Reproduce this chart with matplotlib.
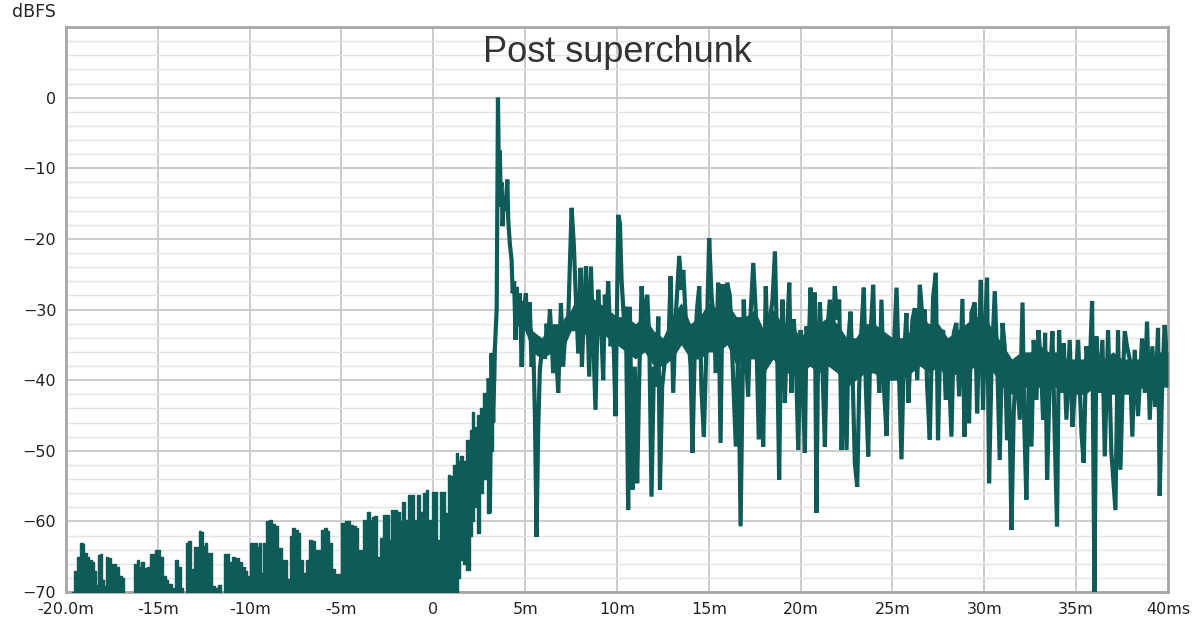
import numpy as np
import matplotlib
matplotlib.use("Agg")
import matplotlib.pyplot as plt
from matplotlib.ticker import MultipleLocator

# --- data (time in ms, level in dBFS) ---
# pre-arrival noise: upper edge of the dense noise floor
noise_t = [-20.0, -19.7, -19.64, -19.5, -19.35, -19.15, -19.05, -18.95, -18.8, -18.65,
           -18.5, -18.42, -18.33, -18.22, -18.1, -17.98, -17.88, -17.78, -17.65, -17.5,
           -17.35, -17.2, -17.0, -16.88, -16.75, -16.35, -16.2, -16.1, -15.97, -15.83,
           -15.7, -15.6, -15.53, -15.36, -15.25, -15.1, -14.95, -14.85, -14.62, -14.5,
           -14.35, -14.16, -13.97, -13.82, -13.7, -13.55, -13.4, -13.28, -13.1, -13.0,
           -12.87, -12.7, -12.6, -12.5, -12.37, -12.25, -12.1, -11.98, -11.8, -11.62,
           -11.45, -11.3, -11.17, -11.07, -10.9, -10.7, -10.5, -10.35, -10.2, -10.07,
           -9.9, -9.7, -9.55, -9.45, -9.35, -9.2, -9.05, -8.85, -8.7, -8.55,
           -8.35, -8.15, -8.0, -7.9, -7.75, -7.6, -7.45, -7.3, -7.17, -7.0,
           -6.82, -6.68, -6.55, -6.35, -6.2, -6.0, -5.86, -5.72, -5.6, -5.45,
           -5.25, -5.1, -4.9, -4.75, -4.6, -4.45, -4.3, -4.15, -4.0, -3.9,
           -3.8, -3.65, -3.54, -3.4, -3.3, -3.15, -3.0, -2.8, -2.65, -2.5,
           -2.36, -2.2, -2.05, -1.9, -1.75, -1.64, -1.45, -1.3, -1.1, -0.97,
           -0.82, -0.65, -0.47, -0.36, -0.18, 0.09, 0.27, 0.51, 0.72, 0.87,
           1.0, 1.15, 1.27, 1.4, 1.54, 1.7, 1.9, 2.05, 2.17, 2.3,
           2.45, 2.63, 2.81, 3.0, 3.17, 3.35]
noise_hi = [-72, -72, -70, -67, -65, -63.0, -63.2, -64.5, -65, -65.5,
            -65.8, -67, -69, -64.7, -64.6, -68.3, -69.2, -65, -65.2, -66,
            -66, -66.4, -67.8, -68, -72, -72, -66, -65.4, -66.4, -65.8,
            -66.6, -69.2, -66.4, -64.6, -64.6, -64, -64, -65, -67.8, -68.3,
            -68.8, -69.5, -65.4, -66.4, -69.5, -72, -63, -62.8, -66.8, -63.6,
            -63.6, -61.4, -61.5, -63.5, -63, -64.5, -64.5, -69.2, -69.5, -69,
            -72, -64.6, -64.6, -65.8, -65, -65.2, -65.8, -66.5, -67, -67.8,
            -63, -63, -63.6, -63, -67.3, -63, -60, -59.8, -60.3, -60.7,
            -63.8, -65.4, -65.5, -68.2, -62, -60.9, -61.2, -61.7, -65.4, -67.3,
            -65.4, -62.6, -62.8, -64, -64, -61.2, -60.9, -61.4, -63, -66.8,
            -67.5, -67.5, -60.2, -60, -60, -60.5, -60.7, -60.9, -64, -64,
            -59.8, -59.8, -58.6, -59.8, -59.4, -59.3, -65, -62.3, -59.1, -59.1,
            -62.6, -58.4, -58.4, -58.6, -60, -57.2, -59.8, -56.2, -56.2, -59.8,
            -56.2, -58.6, -56, -55.5, -59.8, -55.8, -62.6, -55.8, -58.8, -53.4,
            -53.6, -52, -50.3, -51.5, -50.8, -51.5, -48.5, -47, -44.5, -46.6,
            -45, -43.9, -41.8, -39.9, -36.2, -35.5]
# lower edge of that noise floor (below -70 until ~1.3 ms)
noise_lo = [-72] * 140 + [-72, -72, -72, -68, -65.5, -66, -66.9, -62, -60, -58,
                          -61.7, -56, -54, -58.8, -50, -40]

# dense core of the decay (where the trace strokes merge), every 0.5 ms
core_t = [4.4, 5.0, 5.4, 5.9, 6.5, 7.0, 7.5, 8.0, 8.5, 9.0,
          9.5, 10.0, 10.5, 11.0, 11.5, 12.0, 12.5, 13.0, 13.5, 14.0,
          14.5, 15.0, 15.5, 16.0, 16.5, 17.0, 17.5, 18.0, 18.5, 19.0,
          19.5, 20.0, 20.5, 21.0, 21.5, 22.0, 22.5, 23.0, 23.5, 24.0,
          24.5, 25.0, 25.5, 26.0, 26.5, 27.0, 27.5, 28.0, 28.5, 29.0,
          29.5, 30.0, 30.5, 31.0, 31.5, 32.0, 32.5, 33.0, 33.5, 34.0,
          34.5, 35.0, 35.5, 36.0, 36.5, 37.0, 37.5, 38.0, 38.5, 39.0,
          39.5, 40.0]
core_hi = [-28, -29, -33, -34, -32, -32, -30, -27, -28, -29,
           -30, -31, -31, -32, -31, -33, -34, -31, -29, -32,
           -31, -29, -30, -29, -31, -31, -30, -33, -30, -32,
           -32, -34, -32, -32, -31, -32, -34, -34, -32, -32,
           -33, -34, -34, -33, -31, -32, -32, -34, -33, -32,
           -31, -31, -33, -35, -37, -36, -36, -35, -36, -36,
           -37, -37, -37, -36, -37, -36, -37, -37, -37, -37,
           -36, -36]
core_lo = [-32, -33, -36, -37, -36, -36, -33, -33, -34, -33,
           -34, -35, -36, -37, -36, -38, -38, -37, -35, -37,
           -37, -36, -36, -35, -38, -37, -37, -39, -37, -39,
           -39, -39, -38, -39, -38, -39, -41, -40, -39, -39,
           -40, -40, -40, -39, -38, -39, -38, -40, -39, -39,
           -38, -37, -39, -41, -42, -41, -41, -41, -41, -41,
           -42, -42, -42, -41, -42, -42, -42, -42, -41, -42,
           -41, -41]

# impulse and decay
ir_t = [3.0, 3.08, 3.17, 3.26, 3.35, 3.45, 3.52, 3.59, 3.62, 3.66,
        3.72, 3.77, 3.85, 3.92, 4.03, 4.08, 4.17, 4.26, 4.32, 4.4,
        4.48, 4.53, 4.62, 4.71, 4.81, 4.9, 5.04, 5.1, 5.17, 5.25,
        5.35, 5.45, 5.53, 5.62, 5.71, 5.8, 5.9, 5.98, 6.08, 6.17,
        6.25, 6.35, 6.53, 6.67, 6.8, 6.95, 7.07, 7.22, 7.35, 7.53,
        7.65, 7.76, 7.89, 8.02, 8.09, 8.2, 8.31, 8.49, 8.58, 8.71,
        8.83, 8.98, 9.07, 9.16, 9.25, 9.34, 9.43, 9.52, 9.65, 9.8,
        9.92, 10.07, 10.16, 10.25, 10.38, 10.48, 10.61, 10.7, 10.85, 10.97,
        11.1, 11.21, 11.34, 11.46, 11.65, 11.76, 11.88, 12.01, 12.12, 12.25,
        12.34, 12.46, 12.61, 12.79, 12.92, 13.06, 13.21, 13.39, 13.52, 13.61,
        13.75, 13.88, 14.01, 14.11, 14.24, 14.37, 14.48, 14.6, 14.73, 14.88,
        15.02, 15.15, 15.28, 15.38, 15.51, 15.64, 15.75, 15.87, 16.0, 16.15,
        16.33, 16.47, 16.6, 16.73, 16.9, 17.02, 17.14, 17.27, 17.42, 17.56,
        17.72, 17.83, 17.96, 18.1, 18.23, 18.36, 18.47, 18.6, 18.72, 18.83,
        18.9, 19.01, 19.14, 19.27, 19.38, 19.5, 19.63, 19.74, 19.87, 20.0,
        20.1, 20.23, 20.32, 20.43, 20.54, 20.65, 20.77, 20.86, 20.95, 21.05,
        21.19, 21.32, 21.45, 21.59, 21.74, 21.86, 21.99, 22.1, 22.23, 22.35,
        22.5, 22.61, 22.72, 22.82, 22.95, 23.08, 23.19, 23.31, 23.44, 23.55,
        23.68, 23.8, 23.95, 24.06, 24.17, 24.28, 24.4, 24.53, 24.68, 24.8,
        24.95, 25.07, 25.22, 25.35, 25.49, 25.62, 25.76, 25.87, 25.98, 26.09,
        26.22, 26.35, 26.49, 26.64, 26.76, 26.89, 27.03, 27.21, 27.36, 27.48,
        27.61, 27.76, 27.9, 28.03, 28.21, 28.34, 28.48, 28.63, 28.81, 28.92,
        29.06, 29.17, 29.3, 29.48, 29.61, 29.72, 29.81, 29.93, 30.04, 30.15,
        30.26, 30.39, 30.57, 30.7, 30.84, 30.99, 31.11, 31.24, 31.35, 31.48,
        31.6, 31.75, 31.93, 32.08, 32.18, 32.29, 32.44, 32.57, 32.69, 32.84,
        32.95, 33.09, 33.2, 33.31, 33.42, 33.56, 33.71, 33.84, 33.96, 34.07,
        34.2, 34.33, 34.47, 34.65, 34.8, 34.94, 35.11, 35.29, 35.41, 35.56,
        35.74, 35.87, 36.0, 36.1, 36.25, 36.43, 36.56, 36.74, 36.92, 37.14,
        37.28, 37.41, 37.56, 37.65, 37.77, 37.92, 38.06, 38.19, 38.37, 38.59,
        38.74, 38.86, 39.01, 39.15, 39.3, 39.46, 39.55, 39.7, 39.82, 39.95]
ir_db = [-40, -58.8, -36.2, -46, -35.5, -30, 0, -15.4, -7.5, -13,
         -12, -18.2, -14, -16, -11.6, -17.4, -20.8, -22.9, -27.7, -26,
         -34.3, -26.8, -31, -27.7, -38.1, -31, -27.7, -32, -33.4, -29,
         -38.1, -36, -44.7, -62.2, -47, -38.5, -36, -34.3, -37, -32,
         -35, -30, -39, -35.2, -41.8, -29.1, -38.1, -31.5, -31, -15.6,
         -20.8, -28.1, -36.2, -24.1, -38.1, -30.5, -23.9, -39.5, -23.9, -34.3,
         -44.2, -27.2, -32.4, -33.8, -40, -27.9, -32.9, -26, -35.2, -32.9,
         -45.1, -16.6, -17.8, -25.8, -31.5, -29.6, -58.4, -29.6, -55.5, -38.1,
         -54.6, -40, -26.7, -31.5, -27.9, -34.3, -56.5, -38.1, -40.9, -31,
         -55.5, -40.9, -37.2, -36.2, -25.3, -41.8, -30.5, -22.4, -27.2, -24.4,
         -31.5, -33.3, -38.1, -50.3, -35.2, -29.6, -26.7, -41.4, -48, -34.3,
         -19.9, -28.1, -31.5, -39, -26.2, -48.9, -26.4, -34.3, -26.2, -28.1,
         -40, -49.4, -35.2, -60.7, -28.6, -36.2, -42.3, -30.9, -23.4, -30.5,
         -48.4, -34.7, -49.4, -26.7, -37.6, -30.9, -28.6, -21.8, -35.2, -54.1,
         -40, -28.6, -43.2, -32.4, -26.2, -41.8, -31.4, -37.1, -49.9, -32.9,
         -39.5, -50.3, -32.4, -36.2, -26.9, -33.8, -27.6, -58.8, -36.2, -29,
         -38.5, -49.4, -32.9, -28.6, -35.2, -26.7, -31.4, -28.6, -49.9, -37.1,
         -49.9, -33.8, -30.3, -38.5, -51.7, -55.1, -40.9, -32.9, -26.9, -40.9,
         -50.8, -33.8, -26.5, -38.5, -34.7, -41.8, -28.6, -40.9, -47.9, -35.2,
         -40, -36.2, -26.9, -38.5, -51.2, -37.1, -30.5, -43.2, -36.2, -31.4,
         -29.8, -40, -26.5, -31.4, -30, -40.9, -48.4, -28.3, -24.8, -48.5,
         -33.8, -32.9, -42.8, -35.7, -48, -33.3, -31.9, -42.3, -28.5, -48,
         -35.7, -46.1, -30.5, -29, -44.7, -33.8, -25.8, -44.2, -32.9, -25.5,
         -54.6, -38.5, -27.4, -37.1, -51.3, -31.9, -35.2, -48.5, -40.9, -61.2,
         -44.7, -37.1, -45.6, -29, -46.6, -56.9, -37.1, -49.4, -34.3, -42.8,
         -32.9, -38, -45.6, -33.3, -54.1, -40, -33.1, -48.5, -60.7, -32.9,
         -41.8, -34.8, -45.6, -34.3, -46.6, -40.9, -34.3, -47.5, -51.7, -35.2,
         -38.5, -28.8, -71, -33.8, -41.8, -34.3, -50.8, -32.9, -50.3, -58.4,
         -32.9, -52.7, -38.5, -33.1, -35.2, -37.1, -48, -35.7, -45.1, -34.1,
         -41.8, -31.7, -45.6, -35.2, -43.8, -32.6, -56.4, -39, -32.2, -37.1]

x_ticks = [-20, -15, -10, -5, 0, 5, 10, 15, 20, 25, 30, 35, 40]
x_labels = ["-20.0m", "-15m", "-10m", "-5m", "0", "5m", "10m", "15m",
            "20m", "25m", "30m", "35m", "40ms"]
y_ticks = [0, -10, -20, -30, -40, -50, -60, -70]

trace = "#0e5b58"

fig = plt.figure(figsize=(12, 6.29), dpi=100)
ax = fig.add_axes([0.055, 0.0588, 0.9183, 0.8982])

# dense noise floor before the arrival (columns, like the sampled trace)
ax.fill_between(noise_t, noise_hi, noise_lo, step="mid", color=trace, lw=1.0,
                ec=trace, zorder=3)
# merged strokes in the decay
ax.fill_between(core_t, core_hi, core_lo, color=trace, lw=0, zorder=3)
ax.plot(ir_t, ir_db, color=trace, lw=3.0, solid_joinstyle="miter", zorder=3)

ax.set_xlim(-20, 40)
ax.set_ylim(-70, 10)
ax.set_xticks(x_ticks)
ax.set_xticklabels(x_labels)
ax.set_yticks(y_ticks)
ax.yaxis.set_minor_locator(MultipleLocator(2))
ax.tick_params(which="both", length=0, labelsize=11.5, colors="#222222", pad=7)
ax.grid(True, which="major", axis="both", color="#c8c8c8", lw=1.3, zorder=0)
ax.grid(True, which="minor", axis="y", color="#e4e4e4", lw=1.0, zorder=0)
ax.set_axisbelow(True)
for s in ax.spines.values():
    s.set_color("#a6a6a6")
    s.set_linewidth(2)

ax.text(0.5, 0.955, "Post superchunk", transform=ax.transAxes, ha="center", va="center",
        fontsize=26, family="Liberation Sans", color="#333333")
fig.text(0.01, 0.981, "dBFS", ha="left", va="center", fontsize=12.5, color="#222222")

fig.savefig("out.png", dpi=100, facecolor="white")
